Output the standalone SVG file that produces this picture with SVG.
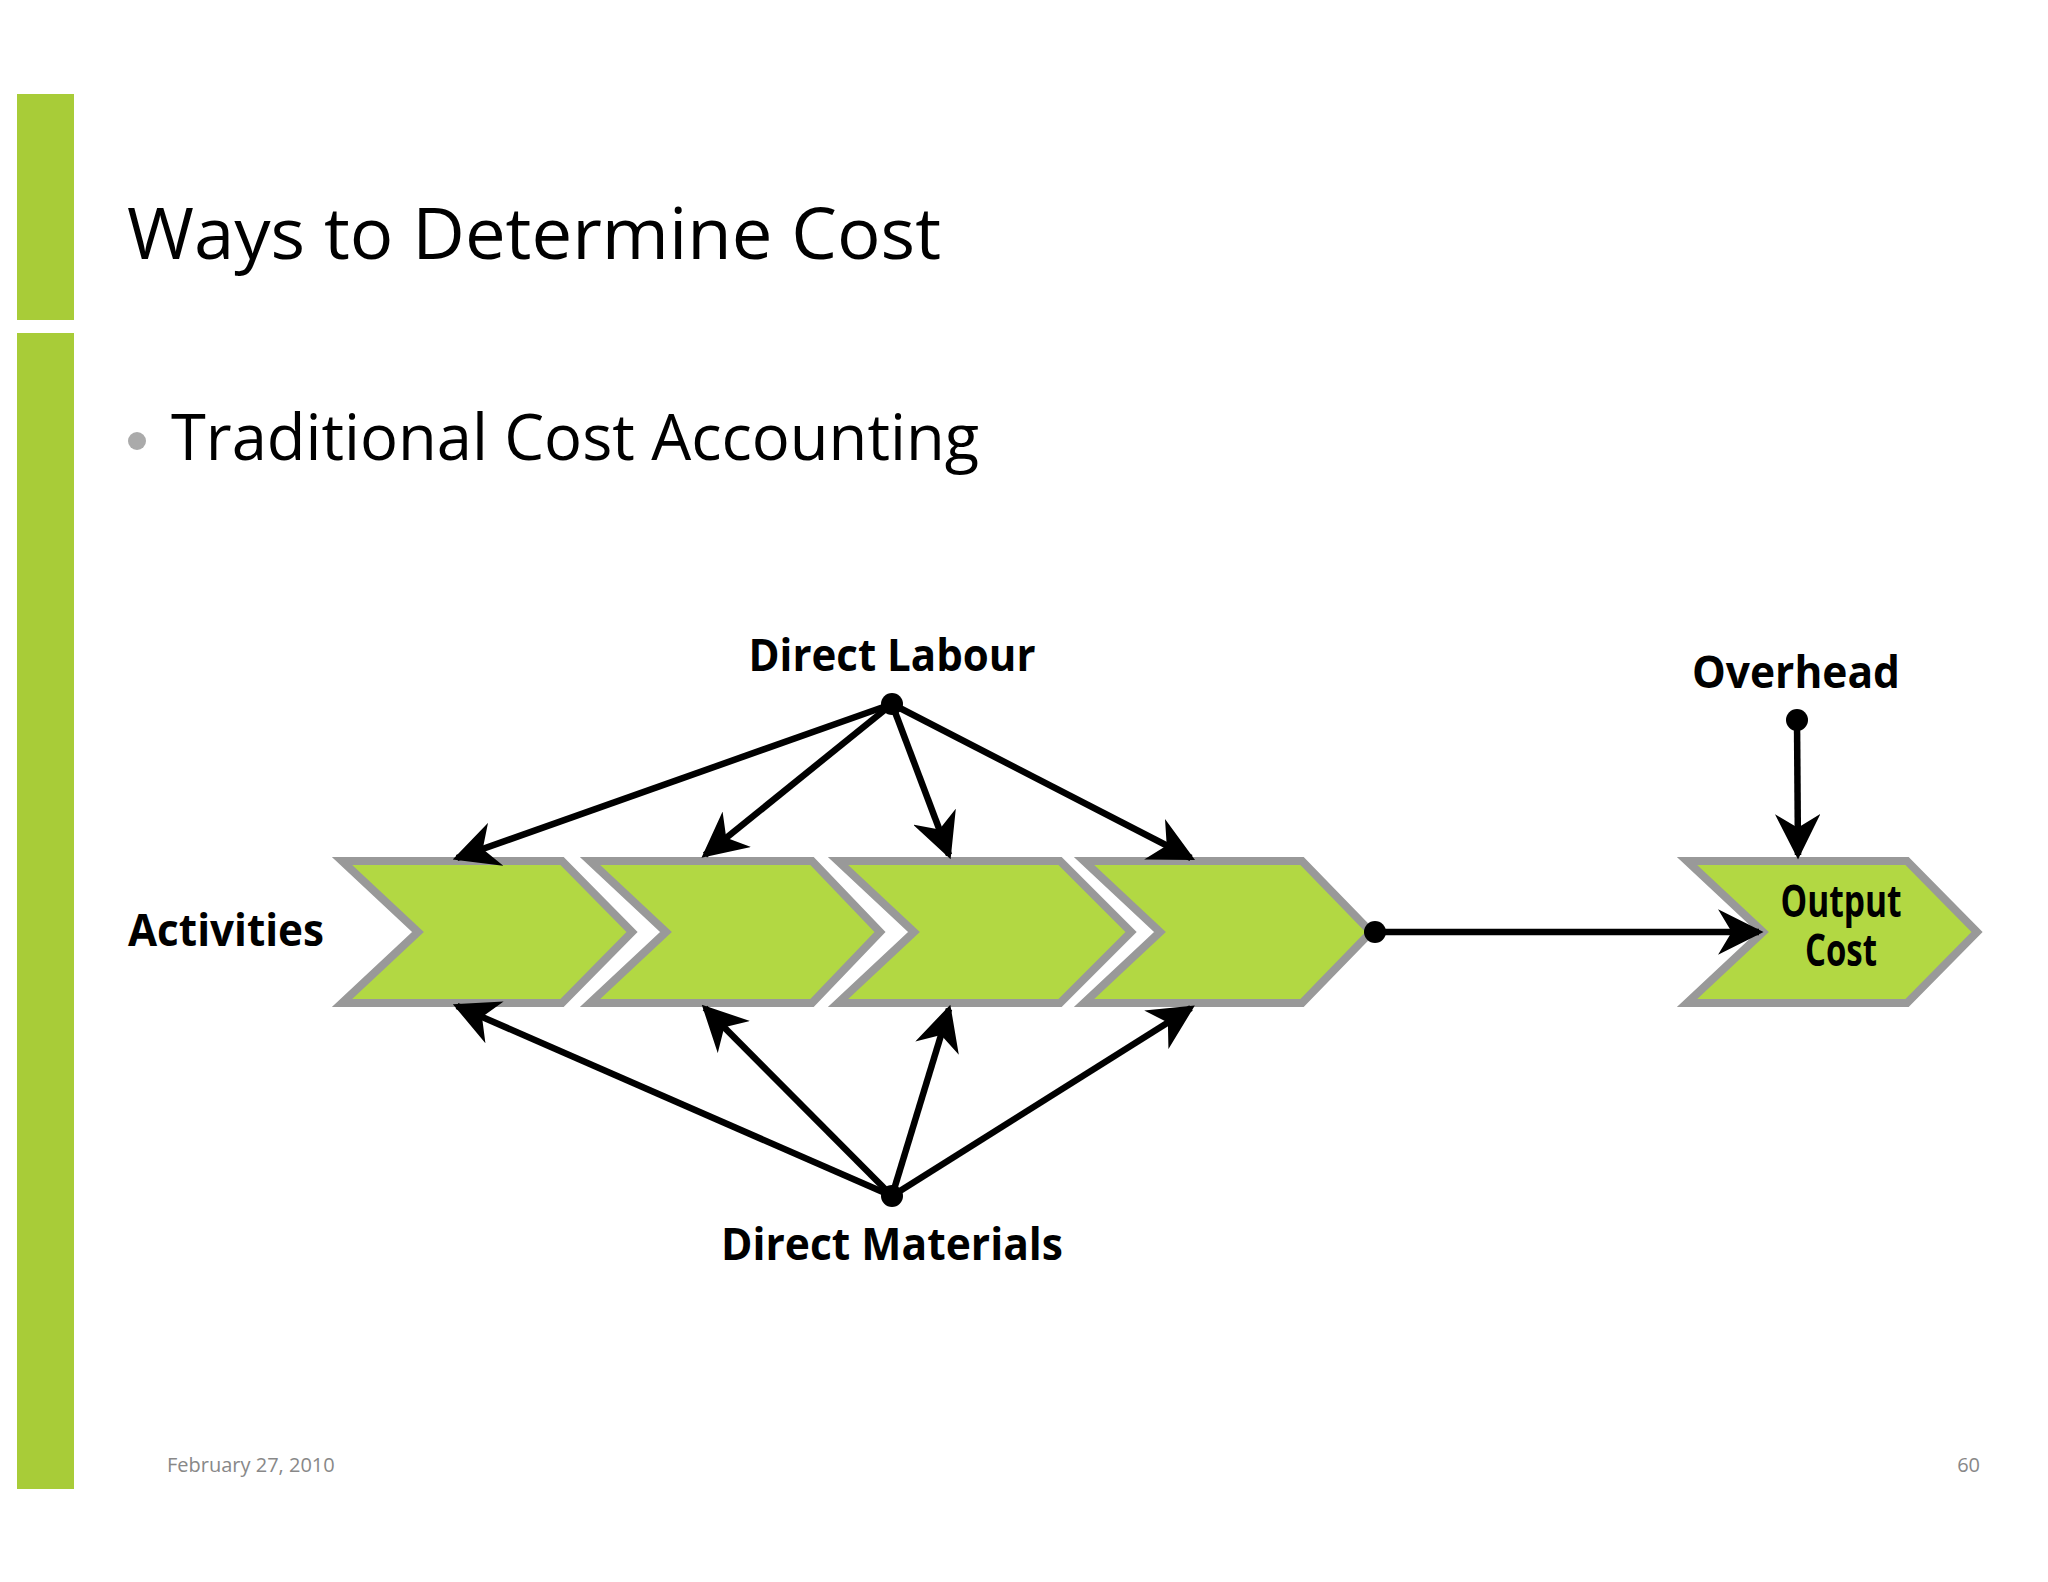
<svg xmlns="http://www.w3.org/2000/svg" width="2048" height="1582" viewBox="0 0 2048 1582">
<style>
.chev{fill:#b2d843;stroke:#999;stroke-width:8}
.lbl{font-family:"Open Sans","Liberation Sans",sans-serif;font-weight:bold;font-size:44px;fill:#000}
.con{stroke:#000;stroke-width:6.5;fill:none;marker-end:url(#ah)}
</style>
<defs>
<marker id="ah" viewBox="0 0 20 20" refX="18" refY="10" markerWidth="7" markerHeight="7" markerUnits="strokeWidth" orient="auto"><path d="M0,0 L20,10 L0,20 L6,10 Z" fill="#000"/></marker>
</defs>
<rect width="2048" height="1582" fill="#fff"/>
<rect x="17" y="94" width="57" height="226" fill="#a8cc38"/>
<rect x="17" y="333" width="57" height="1156" fill="#a8cc38"/>
<text x="127" y="259" font-family="Open Sans,Liberation Sans,sans-serif" font-size="72" textLength="814" lengthAdjust="spacingAndGlyphs">Ways to Determine Cost</text>
<circle cx="137" cy="441" r="9" fill="#aaa"/>
<text x="171" y="460" font-family="Open Sans,Liberation Sans,sans-serif" font-size="64" textLength="808" lengthAdjust="spacingAndGlyphs">Traditional Cost Accounting</text>
<g id="act1"><polygon class="chev" points="342,861 562,861 632,932 562,1003 342,1003 418,932"/></g>
<g id="act2"><polygon class="chev" points="590,861 812,861 880,932 812,1003 590,1003 666,932"/></g>
<g id="act3"><polygon class="chev" points="838,861 1060,861 1131,932 1060,1003 838,1003 914,932"/></g>
<g id="act4"><polygon class="chev" points="1084,861 1302,861 1371,932 1302,1003 1084,1003 1160,932"/></g>
<g id="output"><polygon class="chev" points="1687,861 1907,861 1977,932 1907,1003 1687,1003 1763,932"/>
<text class="lbl" x="1841" y="917" font-size="30" text-anchor="middle" textLength="121" lengthAdjust="spacingAndGlyphs">Output</text>
<text class="lbl" x="1841" y="966" font-size="30" text-anchor="middle" textLength="72" lengthAdjust="spacingAndGlyphs">Cost</text></g>
<g id="labour"><text class="lbl" x="892" y="671" text-anchor="middle" textLength="287" lengthAdjust="spacingAndGlyphs">Direct Labour</text><circle cx="892" cy="704" r="11"/></g>
<g id="materials"><text class="lbl" x="892" y="1260" text-anchor="middle" textLength="342" lengthAdjust="spacingAndGlyphs">Direct Materials</text><circle cx="892" cy="1196" r="11"/></g>
<g id="overhead"><text class="lbl" x="1796" y="688" text-anchor="middle" textLength="208" lengthAdjust="spacingAndGlyphs">Overhead</text><circle cx="1797" cy="720" r="11"/></g>
<g id="activities"><text class="lbl" x="128" y="946" textLength="196" lengthAdjust="spacingAndGlyphs">Activities</text></g>
<g id="connectors">
<line class="con" x1="892" y1="704" x2="457" y2="858"/>
<line class="con" x1="892" y1="704" x2="705" y2="855"/>
<line class="con" x1="892" y1="704" x2="949" y2="855"/>
<line class="con" x1="892" y1="704" x2="1191" y2="858"/>
<line class="con" x1="892" y1="1196" x2="457" y2="1006"/>
<line class="con" x1="892" y1="1196" x2="705" y2="1008"/>
<line class="con" x1="892" y1="1196" x2="949" y2="1009"/>
<line class="con" x1="892" y1="1196" x2="1191" y2="1008"/>
<line class="con" x1="1797" y1="720" x2="1798" y2="855"/>
<circle cx="1375" cy="932" r="11"/>
<line class="con" x1="1375" y1="932" x2="1759" y2="932"/>
</g>
<text x="167" y="1472" font-family="Open Sans,Liberation Sans,sans-serif" font-size="20" fill="#888">February 27, 2010</text>
<text x="1980" y="1472" font-family="Open Sans,Liberation Sans,sans-serif" font-size="20" fill="#888" text-anchor="end">60</text>
</svg>
